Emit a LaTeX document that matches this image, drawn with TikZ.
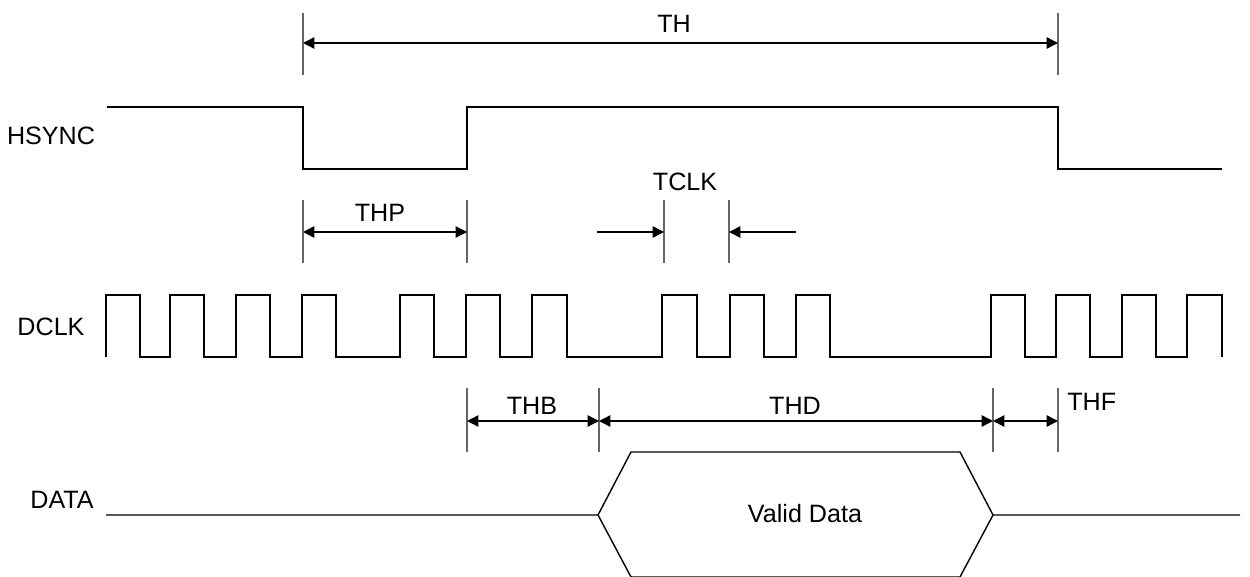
\documentclass[tikz,border=0pt]{standalone}
\usepackage{fontspec}
\setmainfont{Liberation Sans}
\usetikzlibrary{arrows.meta}

\tikzset{
  sig/.style={line width=0.8pt,black},
  tick/.style={line width=0.6pt,black!60},
  dimline/.style={line width=0.8pt,black,<->},
  lbl/.style={font=\fontsize{14.3}{17}\selectfont,inner sep=0pt}
}

\begin{document}
\begin{tikzpicture}[x=0.02cm,y=-0.02cm,>={Triangle[length=6.5pt,width=6.5pt]}]
\useasboundingbox (0,0) rectangle (1250,577);
% signal names
\node[lbl] (hsync) at (51,136) {HSYNC};
\node[lbl] (dclk) at (51,327) {DCLK};
\node[lbl] (data) at (62,500) {DATA};
% HSYNC
\draw[sig] (107,107) -- (303,107) -- (303,169) -- (467,169) -- (467,107) -- (1058,107) -- (1058,169) -- (1222,169);
% DCLK
\draw[sig] (106,357) \foreach \r/\f in {106/140,170/204,236/270,302/336,400/434,466/500,532/567,662/697,730/764,796/830,991/1025,1056/1090,1122/1156,1187/1222}
  { -- (\r,357) -- (\r,295) -- (\f,295) -- (\f,357) };
% DATA
\draw[sig] (106,515) -- (598,515) -- (631,452) -- (960,452) -- (993,515) -- (1240,515);
\draw[sig] (598,515) -- (631,577) -- (960,577) -- (993,515);
\node[lbl] (valid) at (805,514) {Valid Data};
% TH
\draw[tick] (303,13) -- (303,75);
\draw[tick] (1058,13) -- (1058,75);
\coordinate (thL) at (303,43);
\coordinate (thR) at (1058,43);
\draw[dimline] (thL) -- (thR);
\node[lbl] (th) at (674,24) {TH};
% THP
\draw[tick] (303,200) -- (303,263);
\draw[tick] (467,200) -- (467,263);
\coordinate (thpL) at (303,232);
\coordinate (thpR) at (467,232);
\draw[dimline] (thpL) -- (thpR);
\node[lbl] (thp) at (380,213) {THP};
% TCLK
\draw[tick] (664,200) -- (664,263);
\draw[tick] (729,200) -- (729,263);
\coordinate (tclkA) at (597,232);
\coordinate (tclkB) at (664,232);
\coordinate (tclkC) at (729,232);
\coordinate (tclkD) at (796,232);
\draw[sig,->] (tclkA) -- (tclkB);
\draw[sig,->] (tclkD) -- (tclkC);
\node[lbl] (tclk) at (685,182) {TCLK};
% THB, THD, THF
\foreach \x in {467,599,993,1058}
  \draw[tick] (\x,388) -- (\x,452);
\coordinate (thbL) at (467,421);
\coordinate (thbR) at (599,421);
\coordinate (thdR) at (993,421);
\coordinate (thfR) at (1058,421);
\draw[dimline] (thbL) -- (thbR);
\draw[dimline] (thbR) -- (thdR);
\draw[dimline] (thdR) -- (thfR);
\node[lbl] (thb) at (532,406) {THB};
\node[lbl] (thd) at (795,406) {THD};
\node[lbl,anchor=west] (thf) at (1067,402) {THF};
\end{tikzpicture}
\end{document}
